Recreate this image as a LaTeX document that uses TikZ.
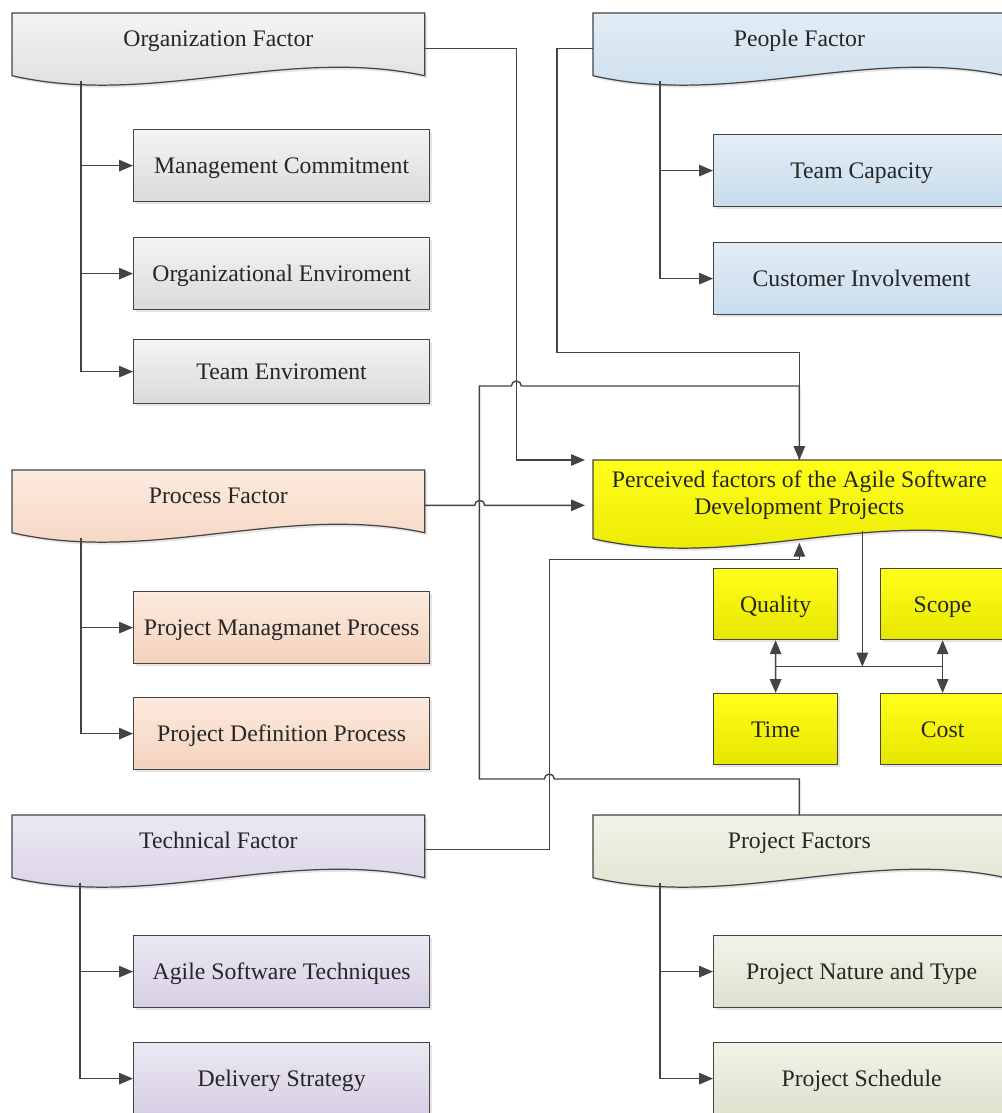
\documentclass[tikz,border=0pt]{standalone}
\usepackage{fontspec}
\setmainfont{Liberation Serif}
\usetikzlibrary{arrows.meta,backgrounds,shadows,calc}

\definecolor{linegray}{HTML}{444444}
\definecolor{txtgray}{HTML}{262626}
\definecolor{orgtop}{HTML}{F4F4F4}
\definecolor{orgbot}{HTML}{DADADA}
\definecolor{ppltop}{HTML}{E2EDF6}
\definecolor{pplbot}{HTML}{C9DCEB}
\definecolor{proctop}{HTML}{FCEBDF}
\definecolor{procbot}{HTML}{F4D2BC}
\definecolor{techtop}{HTML}{ECE8F3}
\definecolor{techbot}{HTML}{D6CFE4}
\definecolor{projtop}{HTML}{F1F3E7}
\definecolor{projbot}{HTML}{DDE2CE}
\definecolor{yeltop}{HTML}{FFFF1A}
\definecolor{yelbot}{HTML}{E6E600}

\tikzset{
  boxline/.style={draw=linegray, line width=0.7pt},
  conn/.style={draw=linegray, line width=0.8pt},
  arr/.style={conn, -{Triangle[length=2.8mm,width=2.3mm]}},
  txt/.style={font=\fontsize{13.5}{15.5}\selectfont, text=txtgray, align=center, inner sep=0pt,
    text height=11pt, text depth=2pt},
  docnode/.style={txt, anchor=north west, minimum width=82.4mm, minimum height=10mm},
  factbox/.style={txt, boxline, anchor=north west, minimum width=59.2mm, minimum height=14.4mm,
    drop shadow={shadow xshift=0.5mm, shadow yshift=-0.5mm, opacity=0.2}},
  qbox/.style={factbox, minimum width=24.8mm, minimum height=14.2mm},
  grayfill/.style={top color=orgtop, bottom color=orgbot},
  bluefill/.style={top color=ppltop, bottom color=pplbot},
  peachfill/.style={top color=proctop, bottom color=procbot},
  lilacfill/.style={top color=techtop, bottom color=techbot},
  greenfill/.style={top color=projtop, bottom color=projbot},
  yelfill/.style={top color=yeltop, bottom color=yelbot}
}

% document shape with a wavy lower edge, drawn round a node
\newcommand{\wavedoc}[2]{%
  \draw[boxline, #2, drop shadow={shadow xshift=0.5mm, shadow yshift=-0.5mm, opacity=0.2}]
    (#1.north west) -- (#1.north east) -- ([yshift=-2.4mm]#1.south east)
    .. controls +(-140,-30) and +(140,32) .. ([yshift=-2.4mm]#1.south west) -- cycle;
}

\begin{document}
\begin{tikzpicture}[x=0.2mm, y=-0.2mm]
  \useasboundingbox (0,0) rectangle (1001,1113);
  \begin{pgfonlayer}{background}
    \fill[white] (0,0) rectangle (1001,1113);
  \end{pgfonlayer}

  % factor headings
  \node[docnode] (org) at (12,13) {Organization Factor};
  \node[docnode] (people) at (593,13) {People Factor};
  \node[docnode] (procf) at (12,470) {Process Factor};
  \node[docnode, minimum height=13.2mm, text height=26.5pt] (perc) at (593,460)
    {Perceived factors of the Agile Software\\Development Projects};
  \node[docnode] (techf) at (12,815) {Technical Factor};
  \node[docnode] (projf) at (593,815) {Project Factors};

  \begin{pgfonlayer}{background}
    \wavedoc{org}{grayfill}
    \wavedoc{people}{bluefill}
    \wavedoc{procf}{peachfill}
    \wavedoc{perc}{yelfill}
    \wavedoc{techf}{lilacfill}
    \wavedoc{projf}{greenfill}
  \end{pgfonlayer}

  % sub factors
  \node[factbox, grayfill] (mgmt) at (133,129) {Management Commitment};
  \node[factbox, grayfill] (orgenv) at (133,237) {Organizational Enviroment};
  \node[factbox, grayfill, minimum height=12.8mm] (teamenv) at (133,339) {Team Enviroment};
  \node[factbox, bluefill] (teamcap) at (713,134) {Team Capacity};
  \node[factbox, bluefill] (custinv) at (713,242) {Customer Involvement};
  \node[factbox, peachfill] (pmp) at (133,591) {Project Managmanet Process};
  \node[factbox, peachfill] (pdp) at (133,697) {Project Definition Process};
  \node[factbox, lilacfill] (ast) at (133,935) {Agile Software Techniques};
  \node[factbox, lilacfill] (deliv) at (133,1042) {Delivery Strategy};
  \node[factbox, greenfill] (pnt) at (713,935) {Project Nature and Type};
  \node[factbox, greenfill] (psched) at (713,1042) {Project Schedule};

  % project constraints
  \node[qbox, yelfill] (quality) at (713,568) {Quality};
  \node[qbox, yelfill] (scope) at (880,568) {Scope};
  \node[qbox, yelfill] (time) at (713,693) {Time};
  \node[qbox, yelfill] (cost) at (880,693) {Cost};

  % trees under each heading
  \coordinate (orgspine) at ([xshift=13.8mm,yshift=-3.4mm]org.south west);
  \coordinate (pplspine) at ([xshift=13.4mm,yshift=-3.4mm]people.south west);
  \coordinate (procspine) at ([xshift=13.8mm,yshift=-3.4mm]procf.south west);
  \coordinate (techspine) at ([xshift=13.6mm,yshift=-3.4mm]techf.south west);
  \coordinate (projspine) at ([xshift=13.4mm,yshift=-3.4mm]projf.south west);
  \foreach \n in {mgmt,orgenv,teamenv}
    \draw[arr] (orgspine) |- (\n.west);
  \foreach \n in {teamcap,custinv}
    \draw[arr] (pplspine) |- (\n.west);
  \foreach \n in {pmp,pdp}
    \draw[arr] (procspine) |- (\n.west);
  \foreach \n in {ast,deliv}
    \draw[arr] (techspine) |- (\n.west);
  \foreach \n in {pnt,psched}
    \draw[arr] (projspine) |- (\n.west);

  % factors into the perceived factors
  \draw[arr, shorten >=1.6mm] ([yshift=-2mm]org.east) -- ++(92,0) |- (perc.north west);
  \draw[arr] ([yshift=-2mm]people.west) -- ++(-36,0) -- ++(0,304) -| (perc.north);
  \draw[conn] (projf.north) -- ++(0,-36) -- ++(-245,0)
    arc[start angle=0, end angle=180, radius=1mm] -- ++(-65,0) -- ++(0,-393) -- ++(32,0)
    arc[start angle=180, end angle=0, radius=1mm] -| (perc.north);
  \draw[arr, shorten >=1.6mm] ([yshift=-2mm]procf.east) -- ++(50,0)
    arc[start angle=180, end angle=0, radius=1mm] -- ([yshift=-2.4mm]perc.west);
  \draw[arr] ([yshift=-1.8mm]techf.east) -- ++(125,0) -- ++(0,-290)
    -| ([yshift=-3.2mm]perc.south);

  % perceived factors to the four constraints
  \coordinate (hub) at ($(quality.south)!0.5!(time.north)$);
  \coordinate (outtop) at ([xshift=12.6mm,yshift=-0.8mm]perc.south);
  \draw[conn] (hub) -- (hub -| scope.south);
  \draw[arr] (outtop) -- (outtop |- hub);
  \draw[arr] (hub) -- (quality.south);
  \draw[arr] (hub) -- (time.north);
  \draw[arr] (hub -| scope.south) -- (scope.south);
  \draw[arr] (hub -| cost.north) -- (cost.north);
\end{tikzpicture}
\end{document}
